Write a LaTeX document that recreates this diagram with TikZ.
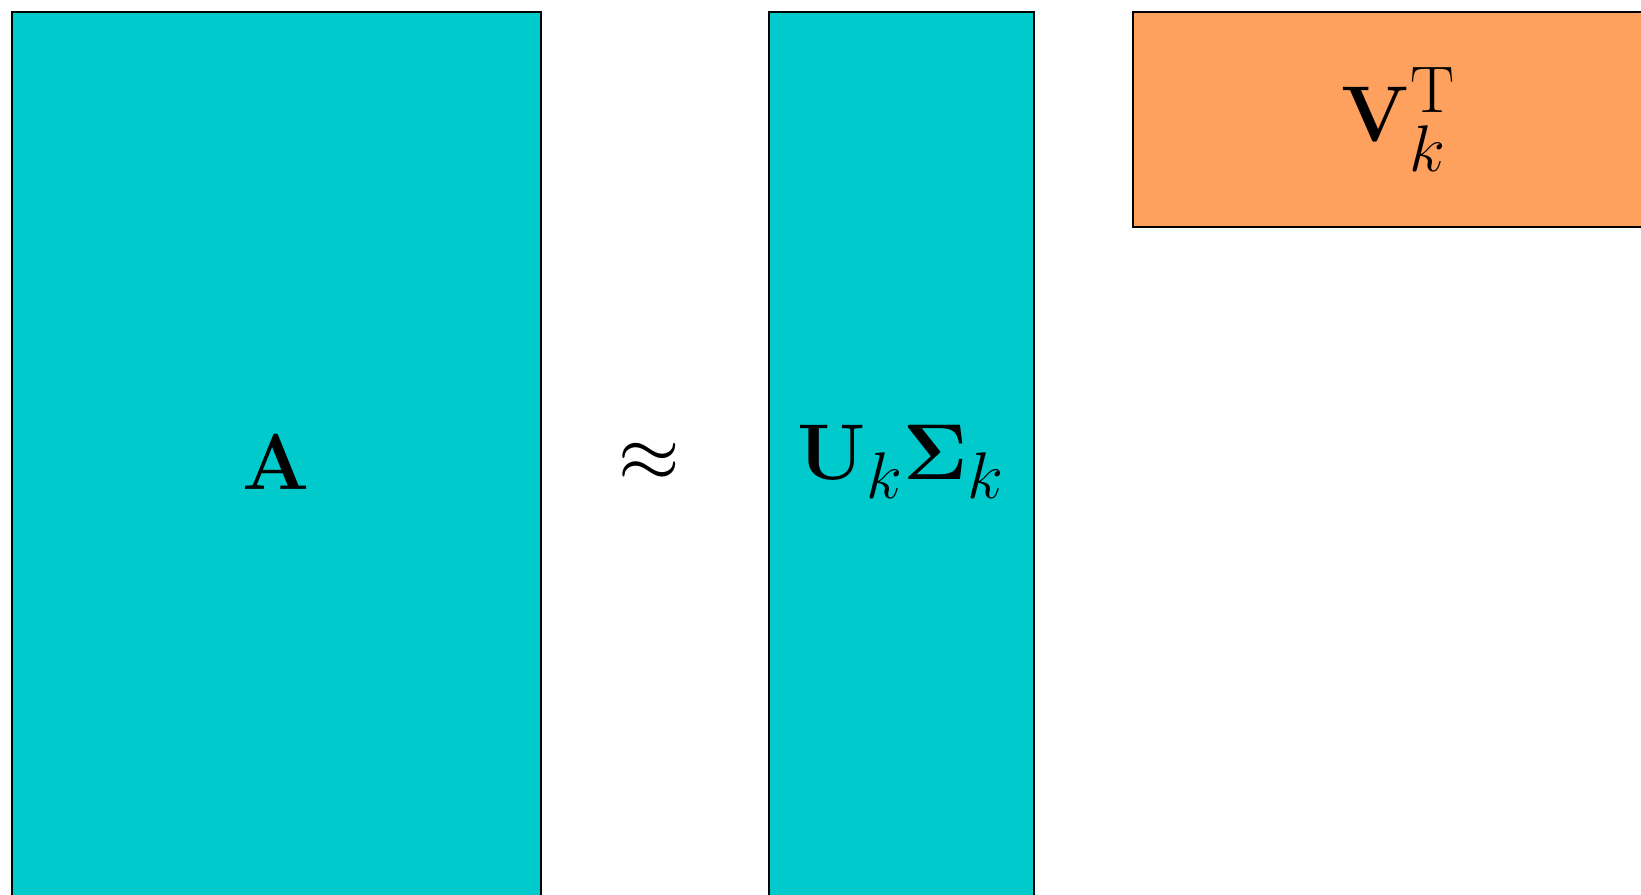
\documentclass[tikz,border=0pt]{standalone}
\usepackage{amsmath}
\usepackage{graphicx}
\definecolor{mcyan}{RGB}{0,202,204}
\definecolor{morange}{RGB}{255,161,94}
\newcommand{\mybigmath}[1]{\scalebox{1.81}{\Huge$#1$}}
\begin{document}
\begin{tikzpicture}[x=0.02cm,y=-0.02cm,
  mat/.style={draw=black,line width=1.5pt,inner sep=0pt},
  tall/.style={mat,fill=mcyan,minimum height=900*0.02cm},
  wide/.style={mat,fill=morange}]
\useasboundingbox (0,0) rectangle (1641,894);
\clip (0,0) rectangle (1641,894);
\node[tall,minimum width=529*0.02cm] (A) at (276.5,462) {\mybigmath{\mathbf{A}}};
\node[inner sep=0pt] (approx) at (649,462) {\mybigmath{\approx}};
\node[tall,minimum width=265*0.02cm] (U) at (901.5,462) {\mybigmath{\mathbf{U}_k\boldsymbol{\Sigma}_k}};
\node[wide,minimum width=532*0.02cm,minimum height=215*0.02cm] (V) at (1399,119.5) {\mybigmath{\mathbf{V}_k^{\mathrm{T}}}};
\end{tikzpicture}
\end{document}
